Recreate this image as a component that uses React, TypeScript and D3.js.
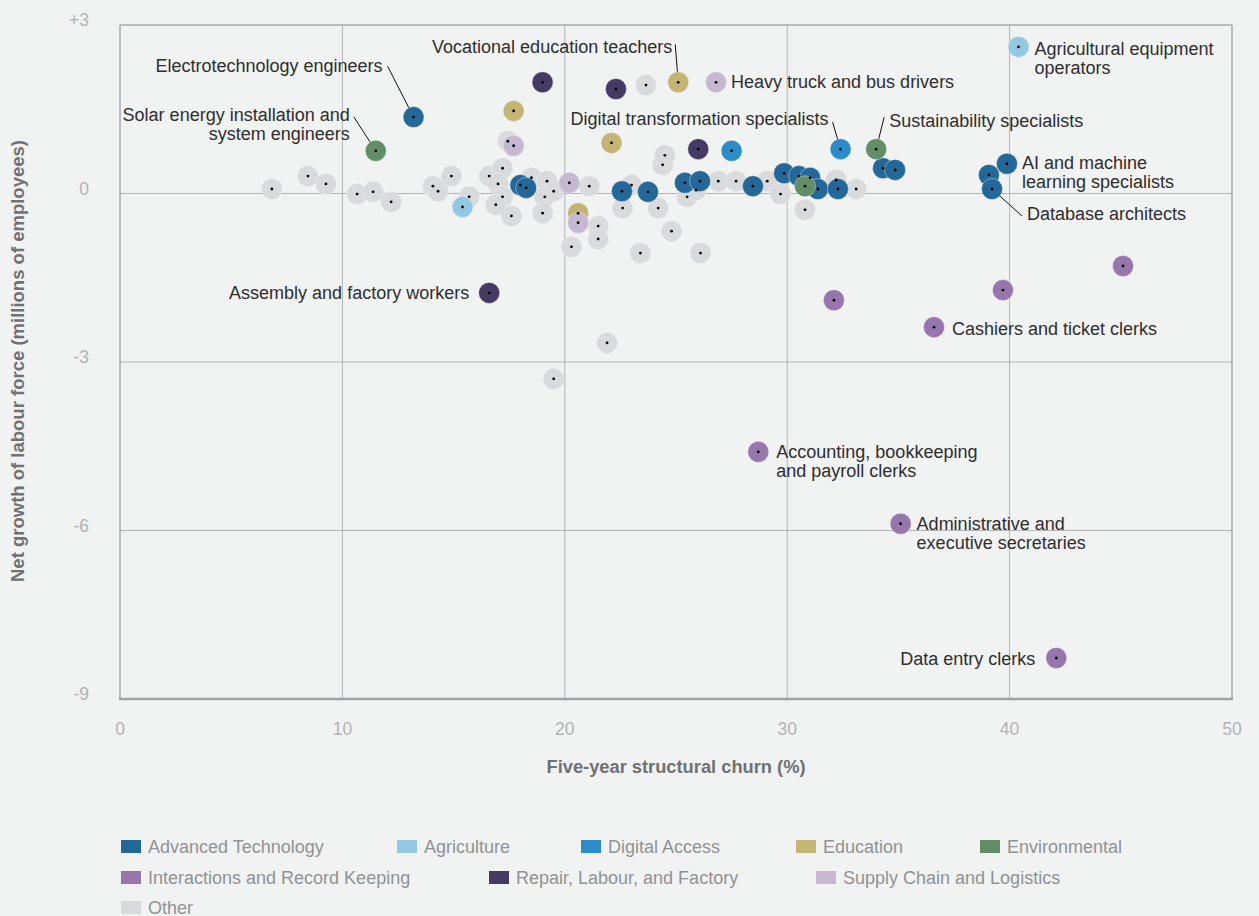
import React, { useEffect } from "react";
import * as d3 from "d3";

// ---------- DATA ----------
const categories = [
  "Advanced Technology",
  "Agriculture",
  "Digital Access",
  "Education",
  "Environmental",
  "Interactions and Record Keeping",
  "Repair, Labour, and Factory",
  "Supply Chain and Logistics",
  "Other",
];

const xTicks = [0, 10, 20, 30, 40, 50];
const yTicks = [3, 0, -3, -6, -9];
const yTickLabels = ["+3", "0", "-3", "-6", "-9"];

// [churn %, net growth (millions)]
const otherPoints: [number, number][] = [
  [6.83, 0.08], [8.45, 0.31], [9.26, 0.17], [10.66, -0.01], [11.38, 0.03], [12.19, -0.15],
  [14.07, 0.13], [14.3, 0.04], [14.9, 0.31], [15.7, -0.06],
  [16.6, 0.31], [17.2, 0.45], [17.0, 0.17], [17.2, -0.06], [16.9, -0.2], [17.6, -0.4], [17.44, 0.93],
  [18.5, 0.28], [19.2, 0.22], [19.1, -0.06], [19.0, -0.35], [19.5, 0.04],
  [21.1, 0.13], [23.0, 0.15], [23.65, 1.93], [24.4, 0.51], [24.5, 0.68],
  [22.6, -0.26], [24.2, -0.26], [21.5, -0.58], [21.5, -0.81], [20.3, -0.95], [23.4, -1.06],
  [24.8, -0.67], [26.1, -1.06], [21.9, -2.66], [19.5, -3.3],
  [25.5, -0.06], [25.9, 0.06], [26.9, 0.22], [27.7, 0.22], [29.1, 0.22], [29.7, -0.01],
  [30.8, -0.29], [32.2, 0.24], [33.1, 0.08],
];
const advancedTechnologyPoints: [number, number][] = [
  [13.2, 1.36], [18.0, 0.15], [18.26, 0.1], [22.57, 0.04], [23.74, 0.03], [25.4, 0.19],
  [26.08, 0.22], [28.46, 0.13], [29.86, 0.36], [30.53, 0.31], [31.03, 0.28], [31.38, 0.08],
  [32.28, 0.08], [34.31, 0.45], [34.85, 0.42], [39.07, 0.33], [39.21, 0.08], [39.88, 0.53],
];
const agriculturePoints: [number, number][] = [[15.4, -0.24], [40.4, 2.61]];
const digitalAccessPoints: [number, number][] = [[27.5, 0.76], [32.4, 0.79]];
const educationPoints: [number, number][] = [[17.7, 1.47], [22.1, 0.9], [20.6, -0.35], [25.1, 1.98]];
const environmentalPoints: [number, number][] = [[11.5, 0.76], [34.0, 0.79], [30.8, 0.13]];
const interactionsPoints: [number, number][] = [
  [45.1, -1.29], [39.7, -1.72], [32.1, -1.9], [36.6, -2.38], [28.7, -4.6], [35.1, -5.88], [42.1, -8.27],
];
const repairPoints: [number, number][] = [[19.0, 1.98], [22.3, 1.86], [26.0, 0.79], [16.6, -1.77]];
const supplyChainPoints: [number, number][] = [[17.7, 0.85], [20.2, 0.19], [20.6, -0.52], [26.8, 1.98]];

const seriesPoints: [number, number][][] = [
  advancedTechnologyPoints,
  agriculturePoints,
  digitalAccessPoints,
  educationPoints,
  environmentalPoints,
  interactionsPoints,
  repairPoints,
  supplyChainPoints,
  otherPoints,
];

// annotated occupations: lines of text and the point they refer to
const annotationTexts: string[][] = [
  ["Electrotechnology engineers"],
  ["Solar energy installation and", "system engineers"],
  ["Vocational education teachers"],
  ["Heavy truck and bus drivers"],
  ["Agricultural equipment", "operators"],
  ["Digital transformation specialists"],
  ["Sustainability specialists"],
  ["AI and machine", "learning specialists"],
  ["Database architects"],
  ["Assembly and factory workers"],
  ["Cashiers and ticket clerks"],
  ["Accounting, bookkeeping", "and payroll clerks"],
  ["Administrative and", "executive secretaries"],
  ["Data entry clerks"],
];
const annotationPoints: [number, number][] = [
  [13.2, 1.36], [11.5, 0.76], [25.1, 1.98], [26.8, 1.98], [40.4, 2.61], [32.4, 0.79], [34.0, 0.79],
  [39.88, 0.53], [39.21, 0.08], [16.6, -1.77], [36.6, -2.38], [28.7, -4.6], [35.1, -5.88], [42.1, -8.27],
];

// ---------- STYLE / LAYOUT ----------
const palette = [
  "#236899", "#93c9e3", "#2a8dc9", "#c5b574", "#628e67",
  "#9676ad", "#443a63", "#c6b8d1", "#d9dadb",
];
type Lay = { dx: number; dy: number; anchor: string; lead?: [number, number, number, number] };
const annotationLayout: Lay[] = [
  { dx: -31, dy: -45, anchor: "end", lead: [-26, -51, 0, 0] },
  { dx: -26, dy: -30, anchor: "end", lead: [-22, -34, 0, 0] },
  { dx: -6, dy: -29, anchor: "end", lead: [-3, -38, 0, 0] },
  { dx: 15, dy: 6, anchor: "start" },
  { dx: 16, dy: 8, anchor: "start" },
  { dx: -12, dy: -24, anchor: "end", lead: [-8, -27, 0, 0] },
  { dx: 13, dy: -22, anchor: "start", lead: [8, -32, 0, 0] },
  { dx: 15, dy: 5, anchor: "start" },
  { dx: 35, dy: 31, anchor: "start", lead: [0, 0, 30, 27] },
  { dx: -20, dy: 6, anchor: "end" },
  { dx: 18, dy: 8, anchor: "start" },
  { dx: 18, dy: 6, anchor: "start" },
  { dx: 16, dy: 6, anchor: "start" },
  { dx: -21, dy: 7, anchor: "end" },
];
const legendPos: [number, number][] = [
  [121, 847], [397, 847], [581, 847], [796, 847], [980, 847],
  [121, 878], [489, 878], [816, 878],
  [121, 908],
];

const W = 1259;
const H = 916;
const left = 120, right = 1232, top = 25, bottom = 699;
const FONT = "'Liberation Sans', Arial, Helvetica, sans-serif";

export default function App() {
  useEffect(() => {
    document.body.style.margin = "0";
    document.body.style.background = "#f1f2f2";
  }, []);

  const x = d3.scaleLinear().domain([0, 50]).range([left, right]);
  const y = d3.scaleLinear().domain([-9, 3]).range([bottom, top]);
  const r = 10.5;

  const order = [8, 0, 1, 2, 3, 4, 5, 6, 7];

  return (
    <svg width={W} height={H} style={{ display: "block", background: "#f1f2f2" }} fontFamily={FONT}>
      <rect x={0} y={0} width={W} height={H} fill="#f1f2f2" />
      {xTicks.slice(1, -1).map((t) => (
        <line key={"gx" + t} x1={x(t)} x2={x(t)} y1={top} y2={bottom} stroke="#b3b4b6" strokeWidth={1} />
      ))}
      {yTicks.slice(1, -1).map((t) => (
        <line key={"gy" + t} x1={left} x2={right} y1={y(t)} y2={y(t)} stroke="#b3b4b6" strokeWidth={1} />
      ))}
      <line x1={left} x2={right} y1={top} y2={top} stroke="#a7a9ac" strokeWidth={1.5} />
      <line x1={right} x2={right} y1={top} y2={bottom} stroke="#a7a9ac" strokeWidth={1.5} />
      <line x1={left} x2={left} y1={top} y2={bottom} stroke="#a7a9ac" strokeWidth={1.5} />
      <line x1={left - 1} x2={right + 1} y1={bottom} y2={bottom} stroke="#a0a2a5" strokeWidth={2.5} />

      {xTicks.map((t) => (
        <text key={"tx" + t} x={x(t)} y={735} textAnchor="middle" fontSize={17.5} fill="#b1b3b5">
          {t}
        </text>
      ))}
      {yTicks.map((t, i) => (
        <text key={"ty" + t} x={89} y={y(t) + 1} textAnchor="end" fontSize={17.5} fill="#b1b3b5">
          {yTickLabels[i]}
        </text>
      ))}

      <text x={676} y={773} textAnchor="middle" fontSize={18.3} fontWeight="bold" fill="#707174">
        Five-year structural churn (%)
      </text>
      <text
        transform={`translate(24,${361}) rotate(-90)`}
        textAnchor="middle"
        fontSize={18.5}
        fontWeight="bold"
        fill="#707174"
      >
        Net growth of labour force (millions of employees)
      </text>

      {annotationLayout.map((l, i) => {
        if (!l.lead) return null;
        const px = x(annotationPoints[i][0]);
        const py = y(annotationPoints[i][1]);
        return (
          <line
            key={"ld" + i}
            x1={px + l.lead[0]}
            y1={py + l.lead[1]}
            x2={px + l.lead[2]}
            y2={py + l.lead[3]}
            stroke="#111"
            strokeWidth={1}
          />
        );
      })}

      {order.map((ci) => (
        <g key={"s" + ci}>
          {seriesPoints[ci].map((p, j) => (
            <circle
              key={j}
              cx={x(p[0])}
              cy={y(p[1])}
              r={r}
              fill={palette[ci]}
              stroke="#eef0f0"
              strokeWidth={0.6}
              strokeOpacity={0.7}
            />
          ))}
        </g>
      ))}
      {order.map((ci) => (
        <g key={"d" + ci}>
          {seriesPoints[ci].map((p, j) => (
            <circle key={j} cx={x(p[0])} cy={y(p[1])} r={1.4} fill="#000" />
          ))}
        </g>
      ))}

      {annotationTexts.map((lines, i) => {
        const l = annotationLayout[i];
        const px = x(annotationPoints[i][0]);
        const py = y(annotationPoints[i][1]);
        return (
          <text key={"an" + i} textAnchor={l.anchor as any} fontSize={18} fill="#2e2e2e">
            {lines.map((s, k) => (
              <tspan key={k} x={px + l.dx} y={py + l.dy + k * 19}>
                {s}
              </tspan>
            ))}
          </text>
        );
      })}

      {categories.map((c, i) => (
        <g key={"lg" + i} transform={`translate(${legendPos[i][0]},${legendPos[i][1]})`}>
          <rect x={0} y={-7} width={20} height={13} fill={palette[i]} />
          <text x={27} y={6} fontSize={18} fill="#909295">
            {c}
          </text>
        </g>
      ))}
    </svg>
  );
}
